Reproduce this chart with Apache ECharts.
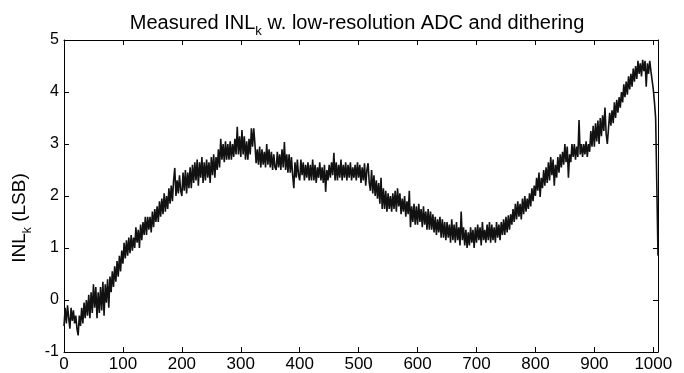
<!DOCTYPE html>
<html>
<head>
<meta charset="utf-8">
<script src="https://cdn.jsdelivr.net/npm/echarts@6/dist/echarts.min.js"></script>
<style>
html,body{margin:0;padding:0;background:#fff;}
#chart{width:684px;height:373px;}
</style>
</head>
<body>
<div id="chart"></div>
<script>
// Sample spacing of the measured INL curve (code index k)
const sampleStep = 2;
const inlValues = [
 -0.5,-0.15,-0.45,-0.1,-0.35,-0.55,-0.15,-0.4,-0.2,-0.45,
 -0.3,-0.55,-0.68,-0.3,-0.5,-0.15,-0.45,-0.05,-0.35,0.0,
 -0.3,0.1,-0.35,0.15,-0.25,0.3,-0.15,0.25,-0.35,0.15,
 -0.25,0.25,-0.2,0.35,-0.3,0.3,-0.05,0.4,-0.15,0.45,
 0.15,0.55,0.25,0.65,0.35,0.75,0.45,0.85,0.55,0.95,
 0.7,1.1,0.8,1.15,0.85,1.2,0.9,1.25,0.95,1.2,
 1.0,1.4,1.1,1.35,1.0,1.45,1.15,1.5,1.25,1.6,
 1.25,1.6,1.35,1.6,1.3,1.7,1.4,1.75,1.5,1.8,
 1.5,1.9,1.6,1.95,1.65,2.05,1.7,2.0,1.75,2.15,
 1.85,2.2,1.9,2.3,2.54,2.0,2.3,2.05,2.4,2.1,
 2.0,2.45,2.1,2.5,2.05,2.45,2.15,2.55,2.15,2.6,
 2.25,2.65,2.3,2.7,2.2,2.65,2.35,2.75,2.25,2.65,
 2.3,2.7,2.35,2.65,2.25,2.75,2.4,2.8,2.35,2.75,
 2.5,2.9,2.55,3.1,2.7,3.0,2.65,3.05,2.7,3.0,
 2.7,3.05,2.7,3.0,2.75,3.1,2.8,3.33,2.8,3.15,
 2.75,3.27,2.8,3.15,2.7,3.05,2.7,3.1,2.8,3.3,
 2.95,3.3,3.0,2.63,2.9,2.6,2.95,2.55,2.9,2.6,
 2.85,2.55,3.0,2.6,2.9,2.55,2.85,2.5,2.8,2.55,
 2.5,2.85,2.55,2.8,2.5,2.9,2.55,3.04,2.5,2.8,
 2.45,2.8,2.45,2.75,2.4,2.15,2.65,2.35,2.7,2.4,
 2.3,2.7,2.4,2.65,2.3,2.6,2.35,2.65,2.3,2.6,
 2.3,2.7,2.3,2.6,2.25,2.55,2.35,2.65,2.3,2.55,
 2.25,2.6,2.08,2.5,2.3,2.6,2.35,2.65,2.4,2.83,
 2.3,2.65,2.3,2.6,2.35,2.7,2.3,2.6,2.35,2.65,
 2.3,2.6,2.35,2.65,2.3,2.55,2.35,2.6,2.3,2.65,
 2.35,2.6,2.25,2.55,2.3,2.63,2.2,2.5,2.63,2.25,
 2.1,2.5,2.05,2.4,2.0,2.3,1.95,2.25,1.85,2.35,
 1.75,2.15,1.75,2.1,1.7,2.05,1.75,2.0,1.7,2.05,
 1.75,2.1,1.7,2.15,1.8,2.05,1.65,1.95,1.7,2.0,
 1.6,1.9,1.65,2.1,1.4,1.8,1.5,1.85,1.45,1.8,
 1.45,1.85,1.5,1.75,1.4,1.8,1.45,1.7,1.35,1.75,
 1.35,1.7,1.35,1.65,1.3,1.6,1.25,1.55,1.3,1.6,
 1.2,1.55,1.2,1.5,1.15,1.5,1.2,1.45,1.1,1.55,
 1.15,1.45,1.1,1.5,1.15,1.4,1.05,1.7,1.15,1.4,
 1.05,1.35,1.0,1.3,1.05,1.4,1.1,1.35,1.0,1.4,
 1.1,1.45,1.15,1.4,1.05,1.5,1.15,1.35,1.1,1.45,
 1.15,1.5,1.1,1.45,1.15,1.4,1.1,1.5,1.2,1.45,
 1.15,1.5,1.25,1.55,1.25,1.6,1.3,1.63,1.35,1.65,
 1.45,1.75,1.5,1.85,1.55,1.9,1.6,1.85,1.55,1.95,
 1.65,2.0,1.7,1.95,1.75,2.05,1.8,2.15,1.9,2.2,
 2.0,2.35,2.1,2.45,1.98,2.35,2.15,2.5,2.2,2.55,
 2.25,2.65,2.3,2.75,2.4,2.7,2.2,2.6,2.35,2.75,
 2.45,2.8,2.55,2.85,2.6,3.0,2.65,2.95,2.35,2.8,
 2.65,3.0,2.75,3.0,2.7,2.95,2.75,3.46,2.8,3.0,
 2.75,3.0,2.8,3.05,2.75,3.0,2.85,3.25,2.95,3.35,
 2.95,3.4,3.05,3.45,3.0,3.5,3.15,3.55,3.25,3.7,
 3.2,3.0,3.3,3.6,3.35,3.65,3.4,3.8,3.5,3.85,
 3.6,3.9,3.7,4.0,3.8,4.15,3.9,4.2,3.95,4.3,
 4.05,4.35,4.1,4.45,4.2,4.5,4.25,4.6,4.35,4.55,
 4.3,4.62,4.4,4.6,4.1,4.55,4.35,4.6,4.4,4.4,
 4.05,3.8,3.5,2.2,0.85
];
const xTickStep = 100;
const xMax = 1008;
const yMin = -1, yMax = 5, yTickStep = 1;
const titleText = '{a|Measured INL}{s|k}{a| w. low-resolution ADC and dithering}';
const yNameText = '{a|INL}{s|k}{a| (LSB)}';

const seriesData = inlValues.map((v, i) => [i * sampleStep, v]);

const font = 'Liberation Sans, Arial, Helvetica, sans-serif';
const chart = echarts.init(document.getElementById('chart'));
const tickCommon = { show: true, inside: true, length: 5, lineStyle: { color: '#000', width: 1 } };
chart.setOption({
  animation: false,
  backgroundColor: '#fff',
  title: {
    text: titleText,
    left: 352, top: 4, textAlign: 'center',
    textStyle: {
      fontWeight: 'normal',
      rich: {
        a: { fontFamily: font, fontSize: 20, fontWeight: 'normal', color: '#000', lineHeight: 25 },
        s: { fontFamily: font, fontSize: 13, fontWeight: 'normal', color: '#000', lineHeight: 29, verticalAlign: 'bottom' }
      }
    }
  },
  grid: { left: 64, right: 26, top: 40, bottom: 21 },
  xAxis: [{
    type: 'value', min: 0, max: xMax, interval: xTickStep,
    axisLine: { show: true, onZero: false, lineStyle: { color: '#000', width: 1 } },
    axisTick: tickCommon,
    axisLabel: { fontFamily: font, fontSize: 17, color: '#000', margin: 4, showMaxLabel: false,
      formatter: v => String(v) },
    splitLine: { show: false }
  }, {
    type: 'value', min: 0, max: xMax, interval: xTickStep, position: 'top',
    axisLine: { show: true, onZero: false, lineStyle: { color: '#000', width: 1 } },
    axisTick: tickCommon, axisLabel: { show: false }, splitLine: { show: false }
  }],
  yAxis: [{
    type: 'value', min: yMin, max: yMax, interval: yTickStep,
    name: yNameText, nameLocation: 'middle', nameGap: 25, nameRotate: 90,
    nameTextStyle: {
      padding: [0, 44, 0, 0],
      rich: {
        a: { fontFamily: font, fontSize: 19, color: '#000', lineHeight: 25 },
        s: { fontFamily: font, fontSize: 12, color: '#000', lineHeight: 28, verticalAlign: 'bottom' }
      }
    },
    axisLine: { show: true, onZero: false, lineStyle: { color: '#000', width: 1 } },
    axisTick: tickCommon,
    axisLabel: { fontFamily: font, fontSize: 16, color: '#000', margin: 5, formatter: v => String(v) },
    splitLine: { show: false }
  }, {
    type: 'value', min: yMin, max: yMax, interval: yTickStep, position: 'right',
    axisLine: { show: true, onZero: false, lineStyle: { color: '#000', width: 1 } },
    axisTick: tickCommon, axisLabel: { show: false }, splitLine: { show: false }
  }],
  series: [{
    type: 'line',
    data: seriesData,
    xAxisIndex: 0, yAxisIndex: 0,
    showSymbol: false,
    lineStyle: { color: '#111', width: 1.6 },
    clip: true
  }]
});
</script>
</body>
</html>
